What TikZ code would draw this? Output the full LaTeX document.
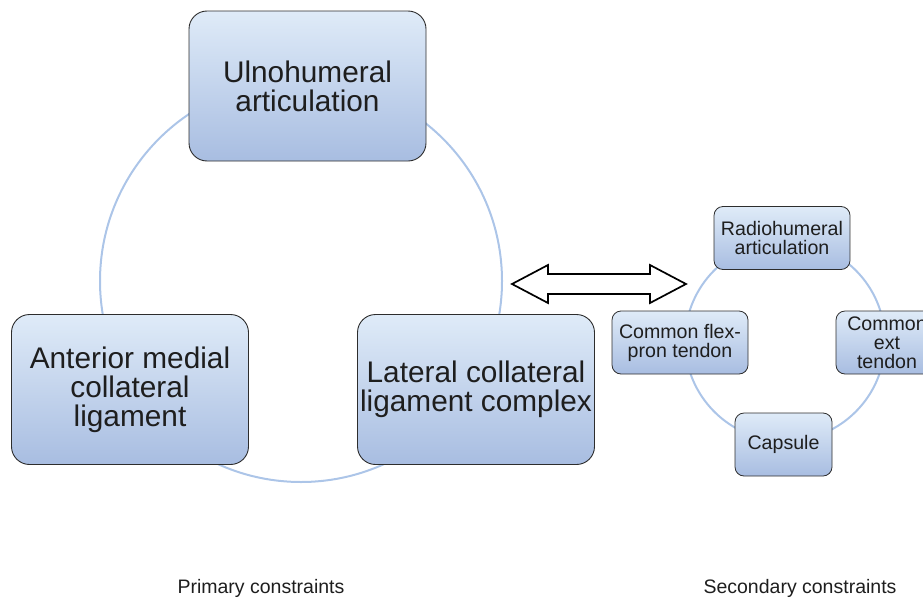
\documentclass[tikz,border=0pt]{standalone}
\usepackage{fontspec}
\setmainfont{Liberation Sans}

\definecolor{boxtop}{RGB}{223,235,248}
\definecolor{boxbot}{RGB}{168,189,225}
\definecolor{ringblue}{RGB}{172,197,232}
\definecolor{edgegray}{RGB}{45,45,45}
\definecolor{txtgray}{RGB}{30,30,30}

\begin{document}
\begin{tikzpicture}
[
	x=1pt,
	y=-1pt,
	bigbox/.style={draw=edgegray,line width=0.9pt,rounded corners=18pt,top color=boxtop,bottom color=boxbot,
		minimum width=237pt,minimum height=150pt,inner sep=0pt,align=center,text=txtgray,
		font=\fontsize{29.8}{29}\selectfont},
	smallbox/.style={draw=edgegray,line width=0.8pt,rounded corners=9pt,top color=boxtop,bottom color=boxbot,
		minimum width=136pt,minimum height=63pt,inner sep=0pt,align=center,text=txtgray,
		font=\fontsize{19.6}{19}\selectfont},
	ring/.style={draw=ringblue,line width=2pt},
	caption/.style={font=\fontsize{19.5}{20}\selectfont,text=txtgray}
]
	\useasboundingbox (0,0) rectangle (923,597);

	% rings behind the boxes
	\coordinate (primary) at (301,281);
	\coordinate (secondary) at (785,341);
	\draw[ring] (primary) circle[radius=201pt];
	\draw[ring] (secondary) circle[radius=100pt];

	% primary constraints
	\node[bigbox] (ulno) at (307.5,86) {Ulnohumeral\\articulation};
	\node[bigbox] (amcl) at (130,389.5) {Anterior medial\\collateral\\ligament};
	\node[bigbox] (lcl) at (476,389.5) {Lateral collateral\\ligament complex};

	% secondary constraints
	\node[smallbox] (radio) at (782,238) {Radiohumeral\\articulation};
	\node[smallbox] (flex) at (680,342.5) {Common flex-\\pron tendon};
	\node[smallbox,minimum width=102pt] (ext) at (887,342.5) {Common\\ext\\tendon};
	\node[smallbox,minimum width=97pt] (caps) at (783.5,444.5) {Capsule};

	% link between the two groups
	\draw[line width=1.7pt,line join=miter,fill=white]
	  (512,284) -- (548,265) -- (548,274) -- (650,274) -- (650,265)
	  -- (686,284) -- (650,303) -- (650,294) -- (548,294) -- (548,303) -- cycle
	;

	\node[caption] (primlabel) at (261,588) {Primary constraints};
	\node[caption] (seclabel) at (800,588) {Secondary constraints};

\end{tikzpicture}
\end{document}
